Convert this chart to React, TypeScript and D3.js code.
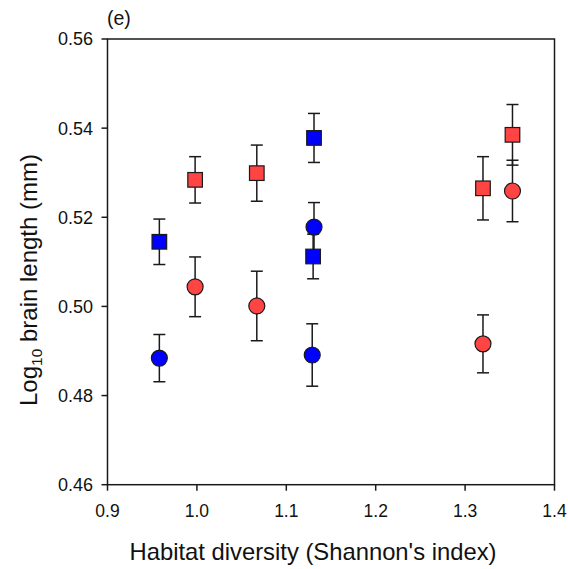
import React from "react";
import * as d3 from "d3";

const xTicks = [0.9, 1.0, 1.1, 1.2, 1.3, 1.4];
const yTicks = [0.46, 0.48, 0.5, 0.52, 0.54, 0.56];

const blueSquareX = [0.958, 1.131, 1.130];
const blueSquareY = [0.5145, 0.5378, 0.5112];
const blueSquareErr = [0.0051, 0.0055, 0.005];

const blueCircleX = [0.958, 1.131, 1.129];
const blueCircleY = [0.4884, 0.5178, 0.4891];
const blueCircleErr = [0.0053, 0.0055, 0.007];

const redSquareX = [0.998, 1.067, 1.32, 1.353];
const redSquareY = [0.5284, 0.5299, 0.5265, 0.5385];
const redSquareErr = [0.0052, 0.0063, 0.0071, 0.0068];

const redCircleX = [0.998, 1.067, 1.32, 1.353];
const redCircleY = [0.5044, 0.5001, 0.4916, 0.5259];
const redCircleErr = [0.0067, 0.0078, 0.0065, 0.0069];

const BLUE = "#0000ff";
const RED = "#ff4444";

type Pt = { x: number; y: number; e: number; color: string; shape: "square" | "circle" };

function build(xs: number[], ys: number[], es: number[], color: string, shape: "square" | "circle"): Pt[] {
  return xs.map((x, i) => ({ x, y: ys[i], e: es[i], color, shape }));
}

const points: Pt[] = [
  ...build(redCircleX, redCircleY, redCircleErr, RED, "circle"),
  ...build(redSquareX, redSquareY, redSquareErr, RED, "square"),
  ...build(blueSquareX, blueSquareY, blueSquareErr, BLUE, "square"),
  ...build(blueCircleX, blueCircleY, blueCircleErr, BLUE, "circle"),
];

export default function App() {
  const left = 107.5;
  const right = 554.5;
  const top = 39;
  const bottom = 484.7;
  const x = d3.scaleLinear().domain([0.9, 1.4]).range([left, right]);
  const y = d3.scaleLinear().domain([0.46, 0.56]).range([bottom, top]);
  const font = "Arial, 'Liberation Sans', Helvetica, sans-serif";
  const ink = "#1a1a1a";
  const cap = 6;

  return (
    <svg
      width={568}
      height={569}
      style={{ position: "absolute", left: 0, top: 0, background: "#fff" }}
      fontFamily={font}
    >
      <rect x={0} y={0} width={568} height={569} fill="#fff" />
      {/* frame */}
      <rect x={left} y={top} width={right - left} height={bottom - top} fill="none" stroke={ink} strokeWidth={1.5} />
      {/* y ticks */}
      {yTicks.map((t) => (
        <g key={"y" + t}>
          <line x1={left - 6} x2={left} y1={y(t)} y2={y(t)} stroke={ink} strokeWidth={1.5} />
          <text x={93} y={y(t)} dy="0.36em" textAnchor="end" fontSize={18} fill="#111">
            {t.toFixed(2)}
          </text>
        </g>
      ))}
      {/* x ticks */}
      {xTicks.map((t) => (
        <g key={"x" + t}>
          <line x1={x(t)} x2={x(t)} y1={bottom} y2={bottom + 6} stroke={ink} strokeWidth={1.5} />
          <text x={x(t)} y={516.5} textAnchor="middle" fontSize={17.5} fill="#111">
            {t.toFixed(1)}
          </text>
        </g>
      ))}
      {/* error bars */}
      {points.map((p, i) => (
        <g key={"e" + i} stroke={ink} strokeWidth={1.5}>
          <line x1={x(p.x)} x2={x(p.x)} y1={y(p.y - p.e)} y2={y(p.y + p.e)} />
          <line x1={x(p.x) - cap} x2={x(p.x) + cap} y1={y(p.y + p.e)} y2={y(p.y + p.e)} />
          <line x1={x(p.x) - cap} x2={x(p.x) + cap} y1={y(p.y - p.e)} y2={y(p.y - p.e)} />
        </g>
      ))}
      {/* markers */}
      {points.map((p, i) =>
        p.shape === "circle" ? (
          <circle key={"m" + i} cx={x(p.x)} cy={y(p.y)} r={8} fill={p.color} stroke={ink} strokeWidth={1.2} />
        ) : (
          <rect
            key={"m" + i}
            x={x(p.x) - 7.3}
            y={y(p.y) - 7.3}
            width={14.6}
            height={14.6}
            fill={p.color}
            stroke={ink}
            strokeWidth={1.2}
          />
        )
      )}
      {/* panel label */}
      <text x={107} y={25} fontSize={19.5} fill="#111">(e)</text>
      {/* x title */}
      <text x={313} y={560} textAnchor="middle" fontSize={23.8} fill="#111">
        Habitat diversity (Shannon's index)
      </text>
      {/* y title */}
      <text
        transform={`translate(37, 280) rotate(-90)`}
        textAnchor="middle"
        fontSize={24}
        fill="#111"
      >
        Log
        <tspan fontSize={15.5} dy={5}>10</tspan>
        <tspan dy={-5}> brain length (mm)</tspan>
      </text>
    </svg>
  );
}
